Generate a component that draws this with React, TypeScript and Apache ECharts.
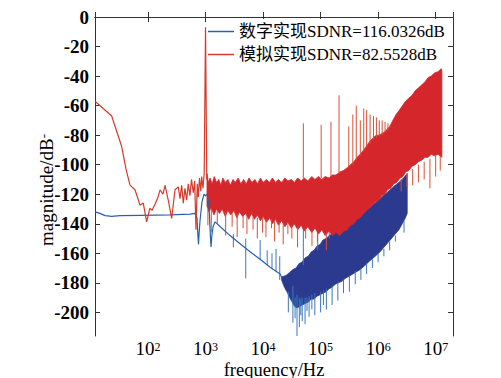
import React, { useEffect, useRef } from "react";
import * as echarts from "echarts";

const seriesNames = ["数字实现SDNR=116.0326dB", "模拟实现SDNR=82.5528dB"];
const yTicks = [0, -20, -40, -60, -80, -100, -120, -140, -160, -180, -200];
const xTicks = [100, 1000, 10000, 100000, 1000000, 10000000];

// digital (blue) main trace, [Hz, dB]
const digitalLine: number[][] = [
  [12, -132], [14.6, -133], [18, -134.5], [23.4, -135], [32.6, -134.5], [72.6, -134.3],
  [241, -134], [537, -133.5], [656, -133], [711, -136], [735, -147], [755, -154],
  [775, -146], [802, -138], [869, -125], [942, -120], [1000, -121], [1068, -120],
  [1150, -128], [1210, -147], [1247, -155.7], [1290, -148], [1350, -142], [1462, -138.7],
  [1930, -143], [2667, -148], [3981, -153.5], [5943, -159], [8873, -164], [13250, -169.5],
  [19770, -174], [21000, -176],
];
const digitalUpper: number[][] = [
  [21000, -176], [25000, -175], [29000, -173], [33000, -171], [37500, -170], [42000, -167],
  [47500, -166], [54000, -163], [61000, -162], [69000, -159], [77000, -158], [87000, -155],
  [98000, -154], [110000, -151], [125000, -150], [140000, -148], [158000, -147], [180000, -145],
  [202000, -144], [235000, -142], [267000, -141], [330000, -139], [400000, -137], [490000, -134],
  [600000, -131], [720000, -129], [890000, -126], [1080000, -123], [1320000, -120], [1620000, -117],
  [1980000, -114], [2300000, -112], [2620000, -110], [2900000, -108], [3200000, -106],
];
const digitalLower: number[][] = [
  [21000, -178], [23500, -183], [26000, -186], [29000, -190], [32000, -193], [35500, -196],
  [39000, -197], [43000, -196], [48000, -195], [54000, -194], [61000, -193], [69000, -191],
  [77000, -191], [87000, -189], [98000, -188], [110000, -187], [125000, -186], [140000, -184],
  [158000, -183], [180000, -181], [202000, -180], [235000, -179], [267000, -177], [330000, -175],
  [400000, -173], [490000, -171], [600000, -168], [720000, -165], [890000, -162], [1080000, -159],
  [1320000, -155], [1620000, -151], [1980000, -147], [2300000, -144], [2620000, -140],
  [2900000, -137], [3200000, -133],
];
// [Hz, from dB, to dB]
const digitalSpikes: number[][] = [
  [3043, -147, -156], [5000, -150, -177], [8900, -151, -164], [11800, -158, -168],
  [14300, -160, -170], [16800, -157, -172], [19500, -162, -178],
  [27500, -186, -200], [33000, -182, -207], [36000, -190, -204], [38900, -188, -216],
  [42700, -190, -210], [45300, -191, -202], [47900, -190, -206], [53700, -190, -208],
  [58000, -190, -199], [63100, -189, -203], [70500, -188, -198], [79400, -187, -202],
  [100000, -186, -200], [112000, -185, -195], [125900, -184, -198], [158500, -182, -195],
  [199500, -180, -192], [250000, -178, -187], [316200, -175, -186], [400000, -172, -181],
  [501200, -170, -178], [630000, -167, -174], [794300, -164, -170], [1000000, -160, -166],
  [1259000, -157, -162], [1585000, -152, -158], [1995000, -148, -152], [2818000, -138, -146],
  [50100, -168, -139], [89100, -158, -145], [141300, -150, -140],
];

// analog (red) main trace
const analogLine: number[][] = [
  [12, -57], [23.4, -67], [34.9, -87.7], [41.5, -103], [48.7, -113.8], [59.4, -117],
  [64.4, -121], [72.6, -127.4], [82.8, -126], [94.8, -138.7], [108, -129.4], [117, -131],
  [132, -127], [149, -122], [162, -117], [182, -120], [198, -114], [225, -124], [258, -136.4],
  [295, -117], [336, -115], [360, -123], [385, -114], [411, -126], [439, -116], [470, -124],
  [501, -113], [537, -121], [570, -110], [613, -119], [648, -111], [682, -144], [719, -113],
  [748, -122], [785, -109], [828, -118], [857, -108], [903, -116], [948, -106], [1000, -7],
  [1052, -110], [1060, -108],
];
const analogUpper: number[][] = [
  [1060, -106], [1120, -112], [1200, -109], [1300, -113], [1420, -108], [1550, -112], [1700, -110],
  [1850, -114], [2000, -109], [2200, -112], [2450, -110], [2700, -114], [3000, -110], [3300, -112],
  [3700, -109], [4100, -113], [4600, -110], [5100, -113], [5700, -109], [6400, -112], [7200, -110],
  [8000, -113], [9000, -109], [10000, -112], [11500, -110], [13000, -112], [14500, -109],
  [16500, -112], [18500, -110], [21000, -112], [24000, -109], [27000, -111], [31000, -110],
  [35000, -112], [40000, -109], [46000, -111], [52000, -109], [60000, -111], [70000, -108],
  [80000, -110], [92000, -108], [105000, -110], [120000, -108], [140000, -109], [160000, -107],
  [185000, -107], [215000, -105], [250000, -104], [290000, -102], [330000, -100], [380000, -98],
  [430000, -95], [490000, -93], [560000, -90], [640000, -87], [720000, -84], [820000, -82],
  [920000, -80], [1030000, -80], [1150000, -79], [1280000, -78], [1430000, -76], [1600000, -74],
  [1800000, -70], [2050000, -66], [2350000, -63], [2650000, -60], [3000000, -57], [3400000, -55],
  [3900000, -53], [4400000, -50], [5000000, -48], [5700000, -46], [6500000, -44], [7400000, -41],
  [8400000, -40], [9500000, -38], [11000000, -37], [12500000, -35], [12800000, -36],
];
const analogLower: number[][] = [
  [1060, -128], [1150, -132], [1250, -129], [1400, -134], [1550, -130], [1750, -133], [1950, -130],
  [2200, -135], [2450, -131], [2750, -134], [3100, -131], [3500, -136], [3900, -132], [4400, -135],
  [5000, -133], [5600, -137], [6300, -133], [7100, -137], [8000, -134], [9000, -138], [10000, -135],
  [11500, -139], [13000, -136], [14500, -140], [16500, -137], [18500, -141], [21000, -138],
  [24000, -142], [27000, -139], [31000, -143], [35000, -140], [40000, -144], [46000, -141],
  [52000, -145], [60000, -142], [70000, -146], [80000, -143], [92000, -147], [105000, -144],
  [120000, -148], [140000, -145], [160000, -148], [185000, -146], [215000, -148], [250000, -145],
  [290000, -144], [330000, -141], [380000, -140], [430000, -137], [490000, -136], [560000, -133],
  [640000, -131], [720000, -129], [820000, -127], [920000, -125], [1030000, -124], [1150000, -121],
  [1300000, -120], [1450000, -117], [1650000, -116], [1850000, -113], [2100000, -112],
  [2400000, -109], [2700000, -108], [3000000, -105], [3400000, -104], [3900000, -101],
  [4400000, -100], [5000000, -98], [5700000, -97], [6500000, -95], [7400000, -95], [8400000, -93],
  [9500000, -94], [11000000, -93], [12800000, -95],
];
const analogSpikes: number[][] = [
  [50100, -110, -72], [102300, -109, -73], [151400, -108, -71], [208900, -106, -53],
  [309000, -102, -74], [363100, -100, -66], [416900, -97, -60], [489800, -94, -70],
  [562300, -91, -62], [631000, -88, -63], [724400, -86, -66], [831800, -83, -67],
  [933300, -82, -68], [1047000, -81, -70], [1175000, -80, -70], [1318000, -78, -71],
  [1479000, -77, -72], [1622000, -75, -73],
  [1100, -130, -141], [1259, -130, -146], [1600, -131, -140], [2239, -132, -148],
  [2900, -133, -142], [3548, -133, -149], [4500, -134, -143], [5248, -135, -147],
  [6700, -135, -144], [7943, -136, -150], [9800, -136, -146], [11220, -137, -149],
  [14000, -137, -143], [15850, -138, -152], [19000, -139, -146], [22390, -140, -154],
  [27000, -140, -147], [31620, -141, -150], [39810, -142, -156], [55000, -143, -150],
  [70800, -145, -155], [88000, -146, -152], [125900, -147, -158],
  [2512000, -110, -118], [3162000, -106, -115], [3981000, -103, -114], [5012000, -100, -112],
  [6310000, -98, -110], [7943000, -96, -116], [10000000, -94, -108], [12000000, -94, -104],
];

const SERIF = "'Liberation Serif', 'Times New Roman', serif";
const LEGEND_FONT = "'Liberation Serif', 'Noto Sans CJK SC', serif";
const BLUE = "#2763ab";
const BLUE_BAND = "#2b3a8e";
const BLUE_SPIKE = "#3a78bd";
const RED = "#d63a2c";
const RED_BAND = "#d4262b";
const RED_SPIKE = "#da5035";
const AXIS = "#333";

function bandSeries(upper: number[][], lower: number[][], color: string) {
  return {
    type: "custom",
    coordinateSystem: "cartesian2d",
    silent: true,
    data: [[upper[0][0], upper[0][1]]],
    encode: { x: 0, y: 1 },
    renderItem: (_p: any, api: any) => {
      const pts = upper
        .map((p) => api.coord(p))
        .concat(lower.slice().reverse().map((p) => api.coord(p)));
      return {
        type: "polygon",
        shape: { points: pts },
        style: { fill: color, stroke: color, lineWidth: 0.8 },
      };
    },
  };
}

function spikeSeries(spikes: number[][], color: string) {
  return {
    type: "custom",
    coordinateSystem: "cartesian2d",
    silent: true,
    data: spikes,
    encode: { x: 0, y: [1, 2] },
    renderItem: (_p: any, api: any) => {
      const a = api.coord([api.value(0), api.value(1)]);
      const b = api.coord([api.value(0), api.value(2)]);
      return {
        type: "line",
        shape: { x1: a[0], y1: a[1], x2: b[0], y2: b[1] },
        style: { stroke: color, lineWidth: 1 },
      };
    },
  };
}

const isDecade = (v: number) => {
  const e = Math.log10(v);
  return xTicks.some((t) => Math.abs(Math.log10(t) - e) < 1e-6);
};
const isYTick = (v: number) => yTicks.some((t) => Math.abs(t - v) < 1e-6);

export default function App() {
  const ref = useRef<HTMLDivElement>(null);
  useEffect(() => {
    const chart = echarts.init(ref.current!, null, { renderer: "svg" });
    const commonX = {
      type: "log",
      logBase: 10,
      min: 12,
      max: 2e7,
      splitLine: { show: false },
      minorTick: { show: false },
      axisLine: { show: true, lineStyle: { color: AXIS, width: 1 } },
      axisTick: { show: true, inside: true, length: 5, lineStyle: { color: AXIS } },
    };
    const commonY = {
      type: "value",
      min: -216,
      max: 0,
      interval: 4,
      splitLine: { show: false },
      axisLine: { show: true, lineStyle: { color: AXIS, width: 1 } },
      axisTick: { show: true, inside: true, length: 5, customValues: yTicks, lineStyle: { color: AXIS } },
    };
    chart.setOption({
      animation: false,
      backgroundColor: "#fff",
      textStyle: { fontFamily: SERIF },
      grid: {
        left: 95,
        right: 48,
        top: 17,
        bottom: 42,
        containLabel: false,
        outerBoundsMode: "none",
      },
      legend: {
        data: seriesNames,
        orient: "vertical",
        left: 208,
        top: 19,
        icon: "rect",
        itemWidth: 26,
        itemHeight: 1.5,
        itemGap: 6,
        padding: [4, 1, 4, 0],
        backgroundColor: "#fff",
        selectedMode: false,
        formatter: (name: string) => `{a|${name}}`,
        textStyle: {
          fontSize: 17,
          fontFamily: LEGEND_FONT,
          color: "#000",
          rich: { a: { fontSize: 17, fontFamily: LEGEND_FONT, color: "#000", lineHeight: 17 } },
        },
      },
      xAxis: [
        {
          ...commonX,
          position: "bottom",
          name: "frequency/Hz",
          nameLocation: "middle",
          nameGap: 25,
          nameMoveOverlap: false,
          nameTextStyle: { fontSize: 18.5, fontFamily: SERIF, color: "#000", lineHeight: 18 },
          axisLabel: {
            margin: 5,
            formatter: (v: number) => (isDecade(v) ? `{b|10}{s|${Math.round(Math.log10(v))}}` : ""),
            rich: {
              b: { fontSize: 19, fontFamily: SERIF, color: "#000", lineHeight: 15 },
              s: { fontSize: 12, fontFamily: SERIF, color: "#000", lineHeight: 10, verticalAlign: "top" },
            },
          },
        },
        { ...commonX, position: "top", axisLabel: { show: false } },
      ],
      yAxis: [
        {
          ...commonY,
          position: "left",
          axisLabel: {
            margin: 6,
            fontSize: 19,
            fontWeight: "bold",
            fontFamily: SERIF,
            color: "#000",
            formatter: (v: number) => (isYTick(v) ? String(Math.round(v)) : ""),
          },
        },
        { ...commonY, position: "right", axisLabel: { show: false } },
      ],
      graphic: [
        {
          type: "text",
          x: 46,
          y: 190,
          rotation: Math.PI / 2,
          style: {
            text: "{a|magnitude/dB}{s|-}",
            align: "center",
            verticalAlign: "middle",
            rich: {
              a: { fontSize: 19, fontFamily: SERIF, fill: "#000" },
              s: { fontSize: 13, fontFamily: SERIF, fill: "#000", verticalAlign: "top", lineHeight: 10 },
            },
          },
        },
      ],
      series: [
        bandSeries(digitalUpper, digitalLower, BLUE_BAND),
        spikeSeries(digitalSpikes, BLUE_SPIKE),
        {
          name: seriesNames[0],
          type: "line",
          data: digitalLine,
          symbol: "none",
          lineStyle: { color: BLUE, width: 1.2 },
          itemStyle: { color: BLUE },
        },
        {
          name: seriesNames[1],
          type: "line",
          data: analogLine,
          symbol: "none",
          lineStyle: { color: RED, width: 1.2 },
          itemStyle: { color: RED },
        },
        bandSeries(analogUpper, analogLower, RED_BAND),
        spikeSeries(analogSpikes, RED_SPIKE),
      ],
    });
    return () => chart.dispose();
  }, []);
  return (
    <div
      ref={ref}
      style={{ position: "fixed", left: 0, top: 0, width: 501, height: 378, background: "#fff" }}
    />
  );
}
